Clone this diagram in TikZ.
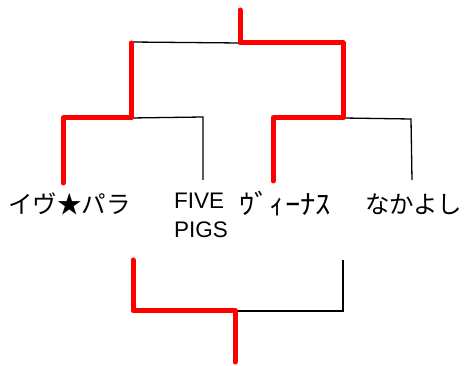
\documentclass[tikz,border=0pt]{standalone}
\usepackage{fontspec}
\usepackage{graphicx}
\setmainfont{Liberation Sans}
\newfontfamily\jpfont{Noto Sans CJK JP}
\begin{document}
\begin{tikzpicture}[x=1pt,y=-1pt,
  win/.style={draw=red,line width=5pt,line cap=round,line join=round},
  lose/.style={draw=black,line width=1.3pt},
  team/.style={inner sep=0pt,font=\jpfont\fontsize{24.5}{28}\selectfont,anchor=west},
  eng/.style={inner sep=0pt,font=\fontsize{22.5}{29}\selectfont,align=left,anchor=north west}]
\useasboundingbox[fill=white] (0,0) rectangle (464,366);
% team names
\node[team] (t1) at (8,204) {イヴ★パラ};
\node[eng] (t2) at (174,193) {FIVE\\PIGS};
\node[team] (t3) at (239,204) {\scalebox{1.25}[1.12]{ｳﾞｨｰﾅｽ}};
\node[team] (t4) at (365,204) {なかよし};
% top bracket coordinates
\coordinate (a1) at (63,183);
\coordinate (a2) at (203,180);
\coordinate (a3) at (273,181);
\coordinate (a4) at (412,180);
\coordinate (m1) at (131,118);
\coordinate (m2) at (343,118);
\coordinate (top) at (240,10);
\coordinate (topj) at (240,43);
% losing lines
\draw[lose] (m1 |- 0,42) -- (topj);
\draw[lose] (m1) -- (203,117) -- (a2);
\draw[lose] (m2) -- (411,119) -- (a4);
% winning lines
\draw[win] (a1) -- (63,118) -- (m1) -- (131,43);
\draw[win] (a3) -- (273,118) -- (m2) -- (343,43) -- (topj) -- (top);
% bottom bracket
\coordinate (b1) at (133,260);
\coordinate (b2) at (343,260);
\coordinate (bj) at (235,311);
\coordinate (bot) at (235,362);
\draw[lose] (bj) -- (b2 |- bj) -- (b2);
\draw[win] (b1) -- (b1 |- bj) -- (bj) -- (bot);
\end{tikzpicture}
\end{document}
